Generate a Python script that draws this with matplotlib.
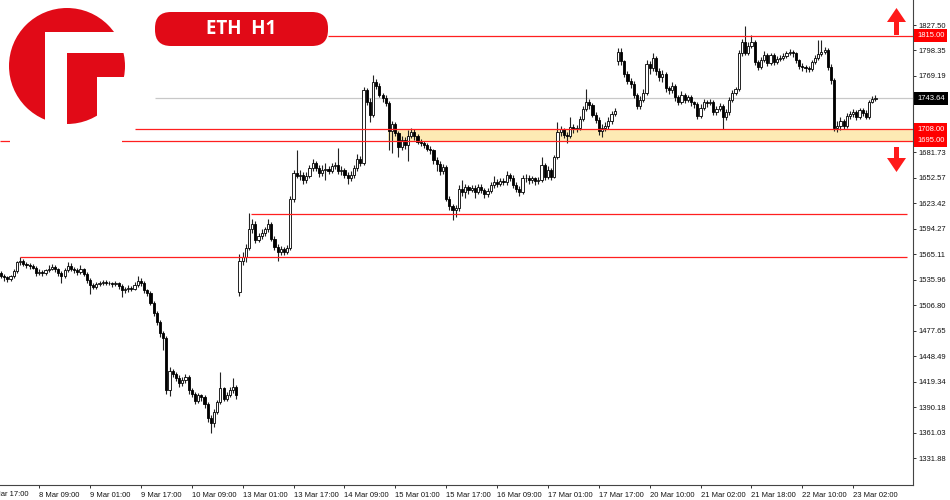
import matplotlib
matplotlib.use('Agg')
import matplotlib.pyplot as plt
from matplotlib.patches import Circle, Polygon, FancyBboxPatch, Rectangle
from matplotlib.transforms import blended_transform_factory, offset_copy

# ---------------- data (ETH H1 candles) ----------------
opens = [
    1544, 1541, 1539, 1537, 1540, 1546, 1556, 1558, 1554, 1553,
    1552, 1550, 1544, 1545, 1544, 1547, 1549, 1551, 1548, 1544,
    1540, 1547, 1552, 1549, 1547, 1545, 1548, 1543, 1536, 1530,
    1528, 1531, 1532, 1534, 1533, 1532, 1531, 1532, 1529, 1524,
    1525, 1527, 1526, 1530, 1535, 1533, 1524, 1521, 1510, 1498,
    1488, 1475, 1470, 1410, 1432, 1428, 1424, 1418, 1422, 1425,
    1410, 1406, 1398, 1404, 1402, 1394, 1378, 1372, 1385, 1396,
    1412, 1400, 1404, 1410, 1414, 1522, 1558, 1562, 1572, 1594,
    1600, 1582, 1586, 1590, 1594, 1600, 1583, 1574, 1568, 1571,
    1568, 1572, 1628, 1658, 1655, 1656, 1650, 1655, 1664, 1670,
    1664, 1658, 1662, 1663, 1661, 1666, 1667, 1660, 1662, 1656,
    1652, 1656, 1664, 1674, 1670, 1753, 1740, 1725, 1762, 1758,
    1748, 1744, 1738, 1706, 1714, 1704, 1688, 1696, 1690, 1701,
    1705, 1700, 1694, 1692, 1690, 1686, 1684, 1673, 1669, 1660,
    1665, 1629, 1620, 1616, 1618, 1640, 1636, 1642, 1639, 1641,
    1637, 1642, 1639, 1634, 1638, 1644, 1648, 1646, 1649, 1648,
    1656, 1653, 1645, 1640, 1637, 1652, 1653, 1650, 1652, 1649,
    1650, 1667, 1654, 1662, 1654, 1676, 1705, 1708, 1702, 1700,
    1711, 1708, 1710, 1720, 1732, 1740, 1736, 1725, 1719, 1706,
    1710, 1712, 1718, 1726, 1786, 1797, 1786, 1772, 1764, 1760,
    1748, 1735, 1742, 1750, 1783, 1778, 1790, 1775, 1768, 1772,
    1755, 1753, 1758, 1745, 1740, 1748, 1742, 1745, 1739, 1737,
    1724, 1733, 1740, 1738, 1740, 1728, 1732, 1735, 1722, 1728,
    1742, 1750, 1754, 1795, 1808, 1796, 1804, 1808, 1785, 1780,
    1788, 1793, 1784, 1793, 1785, 1789, 1790, 1792, 1795, 1797,
    1795, 1787, 1781, 1779, 1778, 1777, 1785, 1790, 1794, 1797,
    1799, 1780, 1765, 1710, 1712, 1718, 1712, 1724, 1726, 1728,
    1722, 1730, 1727, 1722, 1740, 1743,
]
highs = [
    1546, 1543, 1541, 1542, 1549, 1558, 1562, 1560, 1556, 1555,
    1554, 1552, 1548, 1547, 1549, 1553, 1554, 1553, 1550, 1546,
    1550, 1557, 1555, 1551, 1550, 1553, 1550, 1545, 1538, 1533,
    1534, 1535, 1536, 1536, 1535, 1534, 1535, 1534, 1531, 1528,
    1530, 1529, 1534, 1540, 1538, 1535, 1526, 1523, 1512, 1500,
    1490, 1478, 1472, 1436, 1434, 1431, 1427, 1425, 1428, 1427,
    1412, 1408, 1407, 1406, 1404, 1396, 1381, 1388, 1399, 1431,
    1414, 1408, 1413, 1424, 1416, 1566, 1568, 1577, 1613, 1606,
    1603, 1590, 1594, 1597, 1606, 1602, 1586, 1577, 1575, 1574,
    1576, 1632, 1662, 1684, 1662, 1659, 1659, 1667, 1674, 1672,
    1667, 1667, 1670, 1666, 1670, 1671, 1687, 1666, 1664, 1659,
    1660, 1667, 1680, 1678, 1757, 1756, 1744, 1770, 1766, 1761,
    1750, 1747, 1741, 1718, 1716, 1706, 1700, 1699, 1707, 1710,
    1708, 1703, 1697, 1695, 1693, 1689, 1686, 1676, 1672, 1668,
    1667, 1632, 1623, 1622, 1644, 1650, 1646, 1645, 1644, 1644,
    1646, 1646, 1641, 1641, 1648, 1655, 1651, 1653, 1652, 1660,
    1658, 1656, 1648, 1643, 1656, 1657, 1656, 1655, 1654, 1654,
    1677, 1670, 1666, 1664, 1679, 1716, 1712, 1710, 1705, 1722,
    1714, 1713, 1723, 1735, 1754, 1743, 1738, 1728, 1722, 1714,
    1716, 1722, 1729, 1733, 1801, 1801, 1788, 1775, 1767, 1763,
    1750, 1746, 1754, 1787, 1786, 1795, 1792, 1778, 1776, 1774,
    1758, 1762, 1760, 1748, 1752, 1750, 1748, 1747, 1741, 1739,
    1737, 1743, 1742, 1743, 1742, 1735, 1738, 1737, 1732, 1745,
    1753, 1757, 1799, 1812, 1826, 1808, 1816, 1810, 1788, 1791,
    1798, 1795, 1796, 1795, 1792, 1793, 1795, 1798, 1800, 1799,
    1797, 1789, 1784, 1782, 1781, 1788, 1793, 1810, 1810, 1802,
    1801, 1783, 1767, 1718, 1722, 1720, 1727, 1729, 1731, 1730,
    1733, 1733, 1730, 1742, 1746, 1748,
]
lows = [
    1538, 1535, 1534, 1535, 1538, 1544, 1553, 1552, 1550, 1549,
    1548, 1541, 1542, 1541, 1542, 1545, 1547, 1545, 1540, 1533,
    1538, 1545, 1546, 1544, 1542, 1543, 1540, 1533, 1520, 1525,
    1526, 1529, 1530, 1530, 1530, 1528, 1529, 1526, 1516, 1521,
    1522, 1523, 1524, 1528, 1529, 1521, 1518, 1507, 1495, 1484,
    1471, 1456, 1405, 1403, 1425, 1420, 1414, 1415, 1418, 1406,
    1402, 1394, 1395, 1398, 1390, 1374, 1361, 1368, 1383, 1394,
    1397, 1398, 1402, 1407, 1400, 1518, 1553, 1556, 1570, 1590,
    1578, 1579, 1583, 1586, 1591, 1580, 1570, 1558, 1565, 1564,
    1566, 1570, 1625, 1652, 1650, 1646, 1647, 1652, 1660, 1660,
    1654, 1655, 1650, 1657, 1658, 1663, 1657, 1656, 1652, 1646,
    1649, 1653, 1661, 1666, 1667, 1736, 1716, 1722, 1754, 1745,
    1740, 1735, 1684, 1681, 1700, 1677, 1685, 1686, 1672, 1698,
    1696, 1691, 1689, 1687, 1683, 1680, 1668, 1660, 1656, 1657,
    1626, 1616, 1605, 1608, 1615, 1632, 1630, 1634, 1636, 1630,
    1634, 1635, 1630, 1631, 1635, 1641, 1642, 1643, 1644, 1645,
    1649, 1641, 1636, 1632, 1634, 1648, 1646, 1647, 1645, 1646,
    1648, 1650, 1651, 1650, 1652, 1674, 1700, 1698, 1693, 1698,
    1704, 1705, 1707, 1718, 1729, 1732, 1722, 1715, 1702, 1699,
    1706, 1709, 1714, 1723, 1782, 1782, 1768, 1760, 1756, 1744,
    1732, 1732, 1739, 1748, 1772, 1775, 1770, 1764, 1762, 1751,
    1749, 1750, 1741, 1736, 1737, 1738, 1740, 1735, 1733, 1720,
    1721, 1730, 1734, 1736, 1725, 1725, 1729, 1709, 1719, 1725,
    1739, 1747, 1752, 1792, 1793, 1793, 1801, 1782, 1776, 1777,
    1785, 1781, 1782, 1782, 1783, 1786, 1788, 1790, 1793, 1791,
    1784, 1777, 1775, 1774, 1774, 1775, 1783, 1788, 1792, 1794,
    1776, 1760, 1706, 1705, 1707, 1708, 1710, 1720, 1722, 1719,
    1720, 1724, 1720, 1720, 1738, 1741,
]
closes = [
    1541, 1539, 1537, 1540, 1546, 1556, 1558, 1554, 1553, 1552,
    1550, 1544, 1545, 1544, 1547, 1549, 1551, 1548, 1544, 1540,
    1547, 1552, 1549, 1547, 1545, 1548, 1543, 1536, 1530, 1528,
    1531, 1532, 1534, 1533, 1532, 1531, 1532, 1529, 1524, 1525,
    1527, 1526, 1530, 1535, 1533, 1524, 1521, 1510, 1498, 1488,
    1475, 1470, 1410, 1432, 1428, 1424, 1418, 1422, 1425, 1410,
    1406, 1398, 1404, 1402, 1394, 1378, 1372, 1385, 1396, 1412,
    1400, 1404, 1410, 1414, 1404, 1558, 1562, 1572, 1594, 1600,
    1582, 1586, 1590, 1594, 1600, 1583, 1574, 1568, 1571, 1568,
    1572, 1628, 1658, 1655, 1656, 1650, 1655, 1664, 1670, 1664,
    1658, 1662, 1663, 1661, 1666, 1667, 1660, 1662, 1656, 1652,
    1656, 1664, 1674, 1670, 1753, 1740, 1725, 1762, 1758, 1748,
    1744, 1738, 1706, 1714, 1704, 1688, 1696, 1690, 1701, 1705,
    1700, 1694, 1692, 1690, 1686, 1684, 1673, 1669, 1660, 1665,
    1629, 1620, 1616, 1618, 1640, 1636, 1642, 1639, 1641, 1637,
    1642, 1639, 1634, 1638, 1644, 1648, 1646, 1649, 1648, 1656,
    1653, 1645, 1640, 1637, 1652, 1653, 1650, 1652, 1649, 1650,
    1667, 1654, 1662, 1654, 1676, 1705, 1708, 1702, 1700, 1711,
    1708, 1710, 1720, 1732, 1740, 1736, 1725, 1719, 1706, 1710,
    1712, 1718, 1726, 1729, 1797, 1786, 1772, 1764, 1760, 1748,
    1735, 1742, 1750, 1783, 1778, 1790, 1775, 1768, 1772, 1755,
    1753, 1758, 1745, 1740, 1748, 1742, 1745, 1739, 1737, 1724,
    1733, 1740, 1738, 1740, 1728, 1732, 1735, 1722, 1728, 1742,
    1750, 1754, 1795, 1808, 1796, 1804, 1808, 1785, 1780, 1788,
    1793, 1784, 1793, 1785, 1789, 1790, 1792, 1795, 1797, 1795,
    1787, 1781, 1779, 1778, 1777, 1785, 1790, 1794, 1797, 1799,
    1780, 1765, 1710, 1712, 1718, 1712, 1724, 1726, 1728, 1722,
    1730, 1727, 1722, 1740, 1743, 1743.64,
]

time_tick_bars = [-4, 12, 28, 44, 60, 76, 92, 108, 124, 140, 156, 172, 188,
                  204, 220, 236, 252, 268]
time_tick_labels = ['7 Mar 17:00', '8 Mar 09:00', '9 Mar 01:00', '9 Mar 17:00',
                    '10 Mar 09:00', '13 Mar 01:00', '13 Mar 17:00', '14 Mar 09:00',
                    '15 Mar 01:00', '15 Mar 17:00', '16 Mar 09:00', '17 Mar 01:00',
                    '17 Mar 17:00', '20 Mar 10:00', '21 Mar 02:00', '21 Mar 18:00',
                    '22 Mar 10:00', '23 Mar 02:00']
price_ticks = [1331.88, 1361.03, 1390.18, 1419.34, 1448.49, 1477.65, 1506.80,
               1535.96, 1565.11, 1594.27, 1623.42, 1652.57, 1681.73, 1710.88,
               1740.04, 1769.19, 1798.35, 1827.50]
hidden_price_tick = 1740.04   # fully covered by the last-price box in the reference

resistance_top = 1815.00
zone_high = 1708.00
zone_low = 1695.00
support_mid = 1611.3
support_low = 1561.8
last_price = 1743.64
title_text = 'ETH  H1'

# ---------------- styling ----------------
RED = '#ff1f1f'
LOGO_RED = '#e10a17'
FS = 5.5
plt.rcParams['font.family'] = ['Liberation Sans', 'DejaVu Sans']

W, H = 950, 500
fig = plt.figure(figsize=(W / 100, H / 100), dpi=100)
ax = fig.add_axes([0, 15 / H, 913 / W, 485 / H])

n = len(closes)
xs = list(range(n))
XMIN, XMAX = -0.31, 286.8
ax.set_xlim(XMIN, XMAX)
ax.set_ylim(1301.4, 1856.1)

# zone and levels
ax.add_patch(Rectangle((121.6, zone_low), XMAX - 121.6, zone_high - zone_low,
                       facecolor='#fdeab4', edgecolor='none', zorder=0.5))
ax.hlines(last_price, 48.4, XMAX, color='#c8c8c8', lw=0.9, zorder=0.8)
ax.hlines(resistance_top, 102.8, XMAX, color=RED, lw=0.9, zorder=4)
ax.hlines(zone_high, 42.1, XMAX, color=RED, lw=0.9, zorder=4)
ax.hlines(zone_low, XMIN, XMAX, color=RED, lw=0.9, zorder=4)
ax.hlines(support_mid, 78.6, 284.9, color=RED, lw=0.9, zorder=4)
ax.hlines(support_low, 6.0, 284.9, color=RED, lw=0.9, zorder=4)

# candles
ax.vlines(xs, lows, highs, color='#222222', lw=0.8, zorder=2)
bull = [c >= o for o, c in zip(opens, closes)]
bottoms = [min(o, c) for o, c in zip(opens, closes)]
heights = [max(abs(c - o), 0.8) for o, c in zip(opens, closes)]
faces = ['white' if b else 'black' for b in bull]
ax.bar(xs, heights, bottom=bottoms, width=0.68, color=faces,
       edgecolor='black', linewidth=0.6, zorder=3)

# axes styling
for s in ['top', 'left']:
    ax.spines[s].set_visible(False)
for s in ['right', 'bottom']:
    ax.spines[s].set_color('#444444')
    ax.spines[s].set_linewidth(0.8)
ax.yaxis.tick_right()
ax.set_yticks(price_ticks)
ax.set_yticklabels(['' if p == hidden_price_tick else f'{p:.2f}' for p in price_ticks])
ax.tick_params(axis='y', direction='out', length=2.5, width=0.6, pad=1.5,
               labelsize=FS, colors='#111111')
ax.set_xticks(time_tick_bars[1:])
ax.set_xticklabels(time_tick_labels[1:])
for lab in ax.get_xticklabels():
    lab.set_horizontalalignment('left')
ax.tick_params(axis='x', direction='out', length=2.5, width=0.6, pad=2.3,
               labelsize=FS, colors='#111111')
# first (partially cut) time label, left of the axes
bt = blended_transform_factory(ax.transData, ax.transAxes)
ax.text(time_tick_bars[0], 0, time_tick_labels[0],
        transform=offset_copy(bt, fig=fig, x=0, y=-4.4, units='points'),
        ha='left', va='top', fontsize=FS, color='#111111', clip_on=False)

# price boxes at right axis
yt = blended_transform_factory(ax.transAxes, ax.transData)
for price, fc in [(resistance_top, '#ff0000'), (zone_high, '#ff0000'),
                  (zone_low, '#ff0000'), (last_price, 'black')]:
    ax.text(1.0 + 4 / 913, price, f'{price:.2f}', transform=yt, ha='left', va='center',
            fontsize=FS, color='white', clip_on=False, zorder=20,
            bbox=dict(boxstyle='square,pad=0.4', facecolor=fc, edgecolor='none'))

# ---------------- overlay (pixel coordinates, y downward) ----------------
ov = fig.add_axes([0, 0, 1, 1], zorder=10)
ov.set_xlim(0, W)
ov.set_ylim(H, 0)
ov.axis('off')
ov.patch.set_alpha(0)

# logo
ov.add_patch(Rectangle((10, 4), 112, 145, facecolor='white', edgecolor='none'))
ov.add_patch(Circle((67, 66), 58, facecolor=LOGO_RED, edgecolor='none'))
ov.add_patch(Polygon([(45, 32), (67, 32), (67, 130), (45, 130)], closed=True,
                     facecolor='white', edgecolor='none'))
ov.add_patch(Polygon([(45, 32), (130, 32), (130, 53), (45, 53)], closed=True,
                     facecolor='white', edgecolor='none'))
ov.add_patch(Polygon([(97, 77), (130, 77), (130, 130), (97, 130)], closed=True,
                     facecolor='white', edgecolor='none'))

# badge
ov.add_patch(FancyBboxPatch((155, 12), 173, 34, boxstyle='round,pad=0,rounding_size=16',
                            facecolor=LOGO_RED, edgecolor='none'))
ov.text(241, 29.5, title_text, ha='center', va='center', color='white',
        fontsize=13.5, fontweight='bold', family=['Open Sans', 'DejaVu Sans'])

# arrows
ov.add_patch(Polygon([(896.5, 8), (906, 22), (899, 22), (899, 35), (894, 35), (894, 22), (887, 22)],
                     closed=True, facecolor='#ff1a1a', edgecolor='none'))
ov.add_patch(Polygon([(896.5, 172), (906, 158), (899, 158), (899, 147), (894, 147), (894, 158), (887, 158)],
                     closed=True, facecolor='#ff1a1a', edgecolor='none'))

fig.savefig('out.png', dpi=100)
